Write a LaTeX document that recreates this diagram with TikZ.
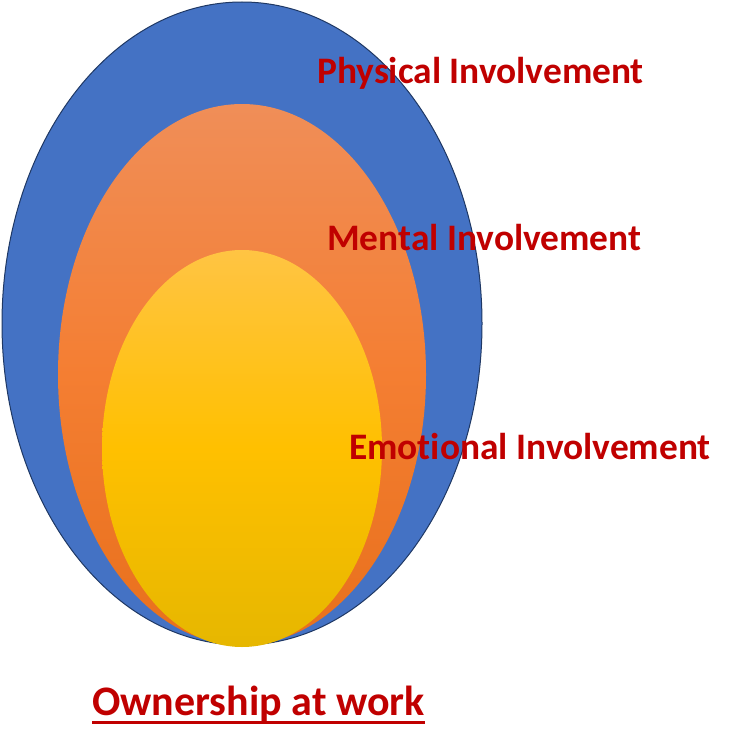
\documentclass[tikz,border=0pt]{standalone}
\usepackage{fontspec}
\setmainfont[Ligatures=NoCommon]{Carlito}
\usetikzlibrary{shapes.geometric}
\definecolor{bluefill}{HTML}{4472C4}
\definecolor{blueline}{HTML}{1F3864}
\definecolor{labred}{HTML}{C00000}
\definecolor{orTop}{HTML}{F08E58}
\definecolor{orMid}{HTML}{F47E32}
\definecolor{orBot}{HTML}{E8701C}
\definecolor{yeTop}{HTML}{FFC443}
\definecolor{yeMid}{HTML}{FFC000}
\definecolor{yeBot}{HTML}{E6B700}
\tikzset{
  oval/.style={ellipse, inner sep=0pt, outer sep=0pt},
  lab/.style={anchor=base west, inner sep=0pt, text=labred, font=\bfseries\fontsize{37.4}{40}\selectfont},
}
\begin{document}
\begin{tikzpicture}[x=1pt,y=-1pt]
\useasboundingbox (0,0) rectangle (735,752);
\node[oval, draw=blueline, line width=1pt, fill=bluefill, minimum width=480pt, minimum height=643pt] (phys) at (242,323.5) {};
\node[oval, top color=orTop, bottom color=orBot, middle color=orMid, minimum width=368pt, minimum height=541pt] (ment) at (242,374.5) {};
\node[oval, top color=yeTop, bottom color=yeBot, middle color=yeMid, minimum width=280pt, minimum height=397pt] (emo) at (242,448.5) {};
\node[lab] (tphys) at (317,83) {Physical Involvement};
\node[lab] (tment) at (327,250) {Mental Involvement};
\node[lab] (temo) at (349,459) {Emotional Involvement};
\node[anchor=base west, inner sep=0pt, text=labred, font=\bfseries\fontsize{42}{46}\selectfont] (town) at (92,715) {Ownership at work};
\draw[labred, line width=3pt] ([yshift=-7pt]town.base west) -- ([yshift=-7pt]town.base east);
\end{tikzpicture}
\end{document}
